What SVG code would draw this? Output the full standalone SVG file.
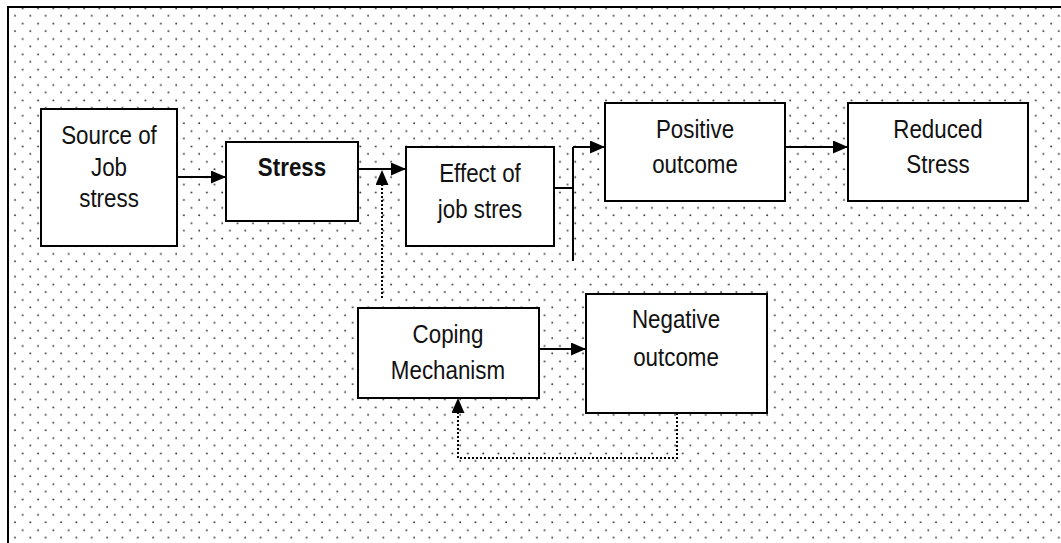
<svg xmlns="http://www.w3.org/2000/svg" width="1061" height="543" viewBox="0 0 1061 543">
  <defs>
    <!-- dotted fill of the frame: staggered grid of small dots -->
    <pattern id="dots" patternUnits="userSpaceOnUse" x="11" y="4" width="15.35" height="15.35">
      <circle cx="11.7" cy="4.3" r="0.95" fill="#333"/>
      <circle cx="4" cy="11.7" r="0.95" fill="#333"/>
    </pattern>
    <marker id="arrow" viewBox="0 0 15 13" refX="15" refY="6.5" markerWidth="15" markerHeight="13" markerUnits="userSpaceOnUse" orient="auto">
      <path d="M0,0 L15,6.5 L0,13 Z" fill="#000"/>
    </marker>
  </defs>
  <style>
    .box { fill: #fff; stroke: #000; stroke-width: 2; }
    /* narrow sans look: regular sans squeezed horizontally */
    .label { font-family: "Liberation Sans", Arial, sans-serif; font-size: 26px; text-anchor: middle; fill: #111; }
    .bold { font-weight: bold; }
    .solid { fill: none; stroke: #000; stroke-width: 2; }
    .dotted { fill: none; stroke: #000; stroke-width: 2; stroke-dasharray: 2 2; }
  </style>

  <!-- background and frame -->
  <rect x="0" y="0" width="1061" height="543" fill="#fff"/>
  <rect x="8" y="7" width="1053" height="536" fill="url(#dots)"/>
  <path d="M8,543 L8,7 L1061,7" fill="none" stroke="#000" stroke-width="2"/>

  <g id="connectors">
    <line class="solid" x1="177" y1="177" x2="226" y2="177" marker-end="url(#arrow)"/>
    <line class="solid" x1="358" y1="169" x2="406" y2="169" marker-end="url(#arrow)"/>
    <path class="solid" d="M554,188 L573,188"/>
    <path class="solid" d="M573,261 L573,147"/>
    <line class="solid" x1="573" y1="147" x2="605" y2="147" marker-end="url(#arrow)"/>
    <line class="solid" x1="785" y1="147" x2="848" y2="147" marker-end="url(#arrow)"/>
    <line class="solid" x1="539" y1="349" x2="586" y2="349" marker-end="url(#arrow)"/>
    <line class="dotted" x1="382" y1="298" x2="382" y2="170" marker-end="url(#arrow)"/>
    <path class="dotted" d="M677,413 L677,458 L458,458 L458,398" marker-end="url(#arrow)"/>
  </g>

  <g id="source">
    <rect class="box" x="41" y="109" width="136" height="137"/>
    <text class="label" transform="translate(109,144) scale(0.86,1)">Source of</text>
    <text class="label" transform="translate(109,176) scale(0.86,1)">Job</text>
    <text class="label" transform="translate(109,207) scale(0.86,1)">stress</text>
  </g>

  <g id="stress">
    <rect class="box" x="226" y="142" width="132" height="79"/>
    <text class="label bold" transform="translate(292,176) scale(0.86,1)">Stress</text>
  </g>

  <g id="effect">
    <rect class="box" x="406" y="147" width="148" height="99"/>
    <text class="label" transform="translate(480,182) scale(0.86,1)">Effect of</text>
    <text class="label" transform="translate(480,218) scale(0.86,1)">job stres</text>
  </g>

  <g id="positive">
    <rect class="box" x="605" y="103" width="180" height="98"/>
    <text class="label" transform="translate(695,138) scale(0.86,1)">Positive</text>
    <text class="label" transform="translate(695,173) scale(0.86,1)">outcome</text>
  </g>

  <g id="reduced">
    <rect class="box" x="848" y="103" width="180" height="98"/>
    <text class="label" transform="translate(938,138) scale(0.86,1)">Reduced</text>
    <text class="label" transform="translate(938,173) scale(0.86,1)">Stress</text>
  </g>

  <g id="coping">
    <rect class="box" x="358" y="308" width="181" height="90"/>
    <text class="label" transform="translate(448,343) scale(0.86,1)">Coping</text>
    <text class="label" transform="translate(448,379) scale(0.86,1)">Mechanism</text>
  </g>

  <g id="negative">
    <rect class="box" x="586" y="294" width="181" height="119"/>
    <text class="label" transform="translate(676,328) scale(0.86,1)">Negative</text>
    <text class="label" transform="translate(676,366) scale(0.86,1)">outcome</text>
  </g>
</svg>
